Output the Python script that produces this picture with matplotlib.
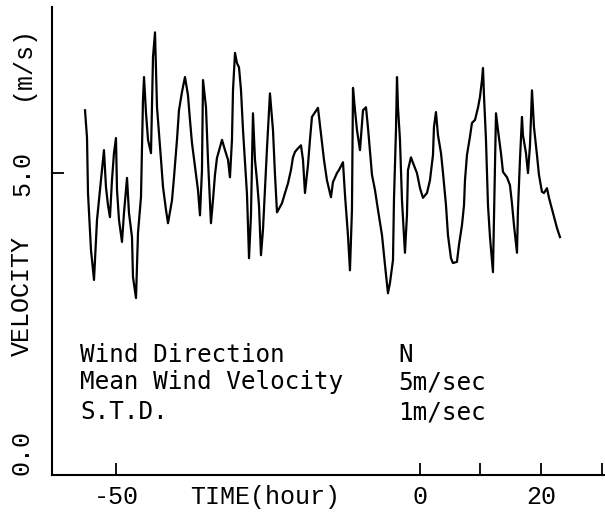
import matplotlib
matplotlib.use("Agg")
import matplotlib.pyplot as plt

time_hours = [
    -55.12, -54.79, -54.63, -54.14, -53.64, -53.15, -52.82, -52.49, -52.00, -51.67,
    -51.34, -51.01, -50.68, -50.35, -50.02, -49.85, -49.52, -49.03, -48.70, -48.20,
    -47.88, -47.38, -47.22, -46.72, -46.39, -45.90, -45.73, -45.57, -45.40, -45.07,
    -44.74, -44.25, -43.92, -43.59, -43.26, -42.93, -42.60, -42.27, -41.78, -41.45,
    -40.79, -40.46, -39.97, -39.64, -39.15, -38.65, -38.16, -37.83, -37.50, -37.00,
    -36.51, -36.18, -35.85, -35.68, -35.19, -34.86, -34.37, -34.04, -33.71, -33.38,
    -32.88, -32.55, -32.06, -31.56, -31.24, -30.91, -30.74, -30.41, -30.08, -29.75,
    -29.42, -29.09, -28.43, -28.10, -27.78, -27.61, -27.45, -27.12, -26.79, -26.46,
    -26.13, -25.80, -25.47, -25.14, -24.65, -24.15, -23.82, -23.49, -22.67, -22.17,
    -21.68, -21.19, -20.86, -20.53, -20.03, -19.54, -19.21, -18.88, -18.39, -18.06,
    -17.73, -16.74, -16.41, -16.08, -15.75, -15.26, -14.60, -14.27, -13.61, -13.28,
    -12.62, -12.29, -11.80, -11.47, -11.14, -10.97, -10.64, -10.31, -9.82, -9.32,
    -8.83, -8.50, -8.17, -7.84, -7.35, -6.85, -6.19, -5.70, -5.21, -4.88,
    -4.38, -4.22, -3.89, -3.72, -3.56, -3.23, -2.90, -2.41, -2.08, -1.91,
    -1.42, -1.09, -0.43, 0.07, 0.56, 1.22, 1.71, 2.21, 2.37, 2.70,
    3.03, 3.53, 3.86, 4.35, 4.68, 5.17, 5.50, 6.16, 6.49, 6.99,
    7.32, 7.48, 7.81, 8.30, 8.63, 9.13, 9.62, 9.95, 10.28, 10.45,
    10.61, 10.94, 11.27, 11.60, 12.09, 12.42, 12.59, 12.92, 13.41, 13.74,
    14.40, 14.89, 15.22, 15.55, 16.05, 16.21, 16.54, 16.87, 17.03, 17.53,
    17.86, 18.19, 18.52, 18.85, 19.34, 19.67, 20.16, 20.50, 20.99, 21.32,
    21.98, 22.64, 23.13,
]

velocity = [
    6.04, 5.58, 4.67, 3.73, 3.23, 4.22, 4.55, 4.88, 5.38, 4.77,
    4.47, 4.27, 4.88, 5.33, 5.58, 4.72, 4.22, 3.86, 4.34, 4.92,
    4.34, 3.94, 3.28, 2.93, 4.01, 4.60, 5.43, 6.21, 6.59, 5.99,
    5.55, 5.33, 6.92, 7.33, 6.09, 5.66, 5.22, 4.77, 4.39, 4.17,
    4.55, 4.93, 5.55, 6.04, 6.34, 6.59, 6.29, 5.88, 5.50, 5.10,
    4.72, 4.30, 5.05, 6.54, 6.09, 5.22, 4.17, 4.55, 4.97, 5.25,
    5.43, 5.55, 5.38, 5.22, 4.93, 5.55, 6.37, 6.99, 6.82, 6.75,
    6.37, 5.71, 4.64, 3.59, 4.30, 5.22, 5.99, 5.22, 4.88, 4.47,
    3.64, 4.06, 4.72, 5.41, 6.32, 5.71, 4.97, 4.35, 4.50, 4.67,
    4.83, 5.05, 5.26, 5.35, 5.41, 5.46, 5.22, 4.67, 5.13, 5.55,
    5.93, 6.08, 5.79, 5.50, 5.22, 4.88, 4.60, 4.85, 5.00, 5.05,
    5.18, 4.64, 3.97, 3.39, 4.39, 6.41, 6.04, 5.71, 5.38, 6.04,
    6.09, 5.75, 5.35, 4.97, 4.72, 4.39, 3.97, 3.48, 3.01, 3.18,
    3.56, 4.55, 5.71, 6.59, 6.09, 5.55, 4.55, 3.68, 4.30, 5.05,
    5.26, 5.17, 5.00, 4.75, 4.59, 4.67, 4.88, 5.30, 5.76, 6.01,
    5.63, 5.33, 5.00, 4.47, 3.97, 3.59, 3.51, 3.53, 3.81, 4.14,
    4.47, 4.88, 5.30, 5.60, 5.83, 5.88, 6.08, 6.26, 6.54, 6.74,
    6.29, 5.55, 4.47, 3.94, 3.36, 5.13, 5.99, 5.71, 5.33, 5.02,
    4.93, 4.80, 4.50, 4.14, 3.68, 4.39, 5.22, 5.93, 5.63, 5.33,
    5.00, 5.46, 6.37, 5.76, 5.30, 4.97, 4.69, 4.67, 4.75, 4.59,
    4.34, 4.09, 3.94,
]

x_ticks = [-50, 0, 10, 20, 30]
x_tick_labels = ["-50", "0", "", "20", ""]
y_ticks = [0, 5]
y_tick_labels = ["0.0", "5.0"]

info_labels = ["Wind Direction", "Mean Wind Velocity", "S.T.D."]
info_values = ["N", "5m/sec", "1m/sec"]

MONO = "Liberation Mono"

fig = plt.figure(figsize=(6.05, 5.17), dpi=100)
ax = fig.add_axes([52 / 605, 42 / 517, 553 / 605, 468 / 517])

ax.plot(time_hours, velocity, color="black", linewidth=1.6)

ax.set_xlim(-60.56, 30.55)
ax.set_ylim(0, 7.75)

for side in ("top", "right"):
    ax.spines[side].set_visible(False)
for side in ("left", "bottom"):
    ax.spines[side].set_linewidth(1.5)

ax.set_xticks(x_ticks)
ax.set_xticklabels(x_tick_labels, fontfamily=MONO, fontsize=18)
ax.tick_params(axis="x", direction="in", length=8.5, width=1.3, pad=7)

ax.set_yticks(y_ticks)
ax.set_yticklabels(y_tick_labels, fontfamily=MONO, fontsize=18,
                   rotation=90, va="center")
ax.tick_params(axis="y", direction="in", length=8.5, width=1.3, pad=13)
ax.yaxis.get_major_ticks()[0].tick1line.set_visible(False)
ax.get_yticklabels()[0].set_va("bottom")

fig.text(265 / 605, 1 - 497 / 517, "TIME(hour)", fontfamily=MONO,
         fontsize=18, ha="center", va="center")
fig.text(22 / 605, 1 - 296 / 517, "VELOCITY", fontfamily=MONO,
         fontsize=18, rotation=90, ha="center", va="center")
fig.text(22 / 605, 1 - 62 / 517, "(m/s)", fontfamily=MONO,
         fontsize=18, rotation=90, ha="center", va="center")

rows_y = [355, 382, 412]
for lab, val, yy in zip(info_labels, info_values, rows_y):
    fig.text(80 / 605, 1 - yy / 517, lab, fontfamily="DejaVu Sans Mono",
             fontsize=17.5, ha="left", va="center")
    fig.text(398 / 605, 1 - yy / 517, val, fontfamily="DejaVu Sans Mono",
             fontsize=17.5, ha="left", va="center")

fig.savefig("out.png", dpi=100)
